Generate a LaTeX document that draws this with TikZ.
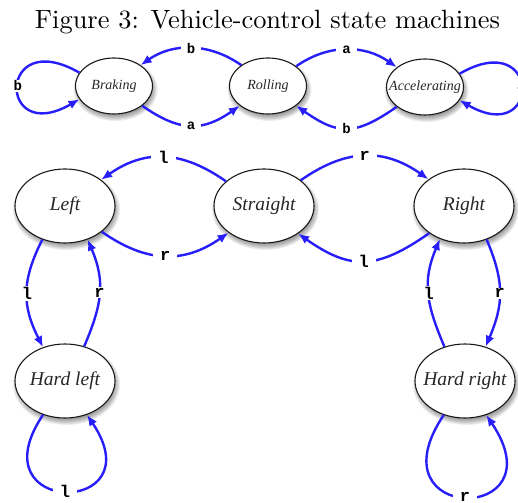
\documentclass[tikz,border=0pt]{standalone}
\usepackage{fontspec}
\usepackage{graphicx}
\usetikzlibrary{shapes.geometric,arrows.meta}
\newfontfamily\stfont{Liberation Serif}
\newfontfamily\lblfont{Liberation Mono}
\definecolor{edgeblue}{RGB}{40,30,250}
\newcommand\zw[1]{\makebox[0pt]{#1}}
\newcommand\mkshadow[4]{%
  \foreach \k in {0,...,7}{%
    \fill[black,opacity=0.065] ({#1+1.5},{#2-3.5}) ellipse [x radius={#3-3.5+\k}, y radius={#4-3.5+\k}];
  }}
\tikzset{
  stbase/.style={ellipse, draw=black!90, line width=1.1pt, fill=white, inner sep=0pt, text=black!85},
  smst/.style={stbase, minimum width=77pt, minimum height=56pt, font=\stfont\itshape\fontsize{14}{16}\selectfont},
  bgst/.style={stbase, minimum width=100pt, minimum height=74pt, font=\stfont\itshape\fontsize{19.5}{22}\selectfont},
  tr/.style={draw=edgeblue, line width=2.4pt, -{Latex[length=11pt,width=9pt]}},
  lbl/.style={fill=white, inner xsep=7pt, inner ysep=1pt, text=black, font=\lblfont\bfseries\fontsize{17}{17}\selectfont},
  slbl/.style={lbl, inner xsep=6pt, font=\lblfont\bfseries\fontsize{14}{14}\selectfont},
}
\begin{document}
\begin{tikzpicture}[x=1pt,y=1pt]
\useasboundingbox (0,0) rectangle (518,502);
\clip (0,0) rectangle (518,502);
\fill[white] (0,0) rectangle (518,502);
% title
\node[anchor=base, inner sep=0pt] (title) at (267.5,473) {\resizebox{465pt}{!}{Figure 3: Vehicle-control state machines}};
% shadows
\mkshadow{114}{416}{38.5}{28}
\mkshadow{268}{416}{38.5}{28}
\mkshadow{425}{415}{38.5}{28}
\mkshadow{65}{296}{50}{37}
\mkshadow{264}{296}{50}{37}
\mkshadow{464}{296}{50}{37}
\mkshadow{65}{121}{50}{37}
\mkshadow{465}{121}{50}{37}
% states
\node[smst] (brk) at (114,416) {\zw{Braking}};
\node[smst] (rol) at (268,416) {\zw{Rolling}};
\node[smst] (acc) at (425,415) {\zw{Accelerating}};
\node[bgst] (left) at (65,296) {\zw{Left}};
\node[bgst] (str) at (264,296) {\zw{Straight}};
\node[bgst] (right) at (464,296) {\zw{Right}};
\node[bgst] (hl) at (65,121) {\zw{Hard left}};
\node[bgst] (hr) at (465,121) {\zw{Hard right}};
% top machine
\draw[tr] (rol.142) to[out=145,in=35] node[slbl]{b} (brk.38);
\draw[tr] (brk.-35) to[out=-35,in=-145,looseness=1.2] node[slbl]{a} (rol.-145);
\draw[tr] (rol.35) to[out=35,in=145] node[slbl]{a} (acc.145);
\draw[tr] (acc.-145) to[out=-145,in=-35,looseness=1.3] node[slbl]{b} (rol.-35);
\draw[tr] (brk.159) to[out=150,in=210,distance=95pt] node[slbl]{b} (brk.201);
\draw[tr] (acc.21) to[out=30,in=-30,distance=95pt] node[slbl]{a} (acc.-21);
% bottom machine
\draw[tr] (str.147) to[out=145,in=35,looseness=1.1] node[lbl]{l} (left.36);
\draw[tr] (left.-35) to[out=-35,in=-145,looseness=1.1] node[lbl]{r} (str.-143);
\draw[tr] (str.35) to[out=35,in=145,looseness=1.1] node[lbl]{r} (right.143);
\draw[tr] (right.-142) to[out=-145,in=-35,looseness=1.25] node[lbl]{l} (str.-39);
\draw[tr] (left.-124) to[out=-117,in=117,looseness=1.1] node[lbl]{l} (hl.123);
\draw[tr] (hl.61) to[out=67,in=-67,looseness=1.1] node[lbl]{r} (left.-56);
\draw[tr] (right.-56) to[out=-67,in=67,looseness=1.1] node[lbl]{r} (hr.59);
\draw[tr] (hr.121) to[out=113,in=-113,looseness=1.1] node[lbl]{l} (right.-126);
\draw[tr] (hl.-123) to[out=-124,in=-56,distance=123pt] node[lbl]{l} (hl.-57);
\draw[tr] (hr.-122) to[out=-124,in=-56,distance=132pt] node[lbl]{r} (hr.-58);
\end{tikzpicture}
\end{document}
